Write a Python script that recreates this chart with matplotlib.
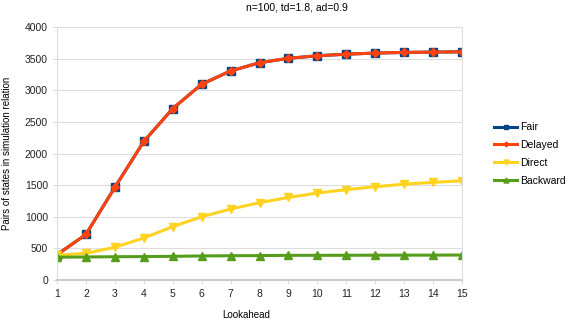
import matplotlib
matplotlib.use("Agg")
import matplotlib.pyplot as plt

lookahead = list(range(1, 16))
fair = [400, 720, 1465, 2190, 2710, 3095, 3305, 3435, 3505, 3545, 3570, 3588, 3598, 3603, 3608]
delayed = [400, 720, 1465, 2190, 2710, 3095, 3305, 3435, 3505, 3545, 3570, 3588, 3598, 3603, 3608]
direct = [390, 422, 517, 664, 843, 1000, 1122, 1222, 1305, 1375, 1428, 1475, 1515, 1543, 1568]
backward = [360, 364, 368, 370, 374, 380, 384, 386, 390, 390, 391, 392, 393, 393, 395]

plt.rcParams["font.family"] = ["Liberation Sans", "DejaVu Sans"]

fig = plt.figure(figsize=(5.68, 3.2), dpi=100)
ax = fig.add_axes([57 / 568, 40 / 320, 405 / 568, 253 / 320])

ax.plot(lookahead, fair, color="#004586", lw=2.2, marker="s", ms=6, label="Fair")
ax.plot(lookahead, delayed, color="#ff420e", lw=2.2, marker="D", ms=4, label="Delayed")
ax.plot(lookahead, direct, color="#ffd320", lw=2.2, marker="v", ms=6, label="Direct")
ax.plot(lookahead, backward, color="#579d1c", lw=2.2, marker="^", ms=6, label="Backward")

ax.set_xlim(1, 15)
ax.set_ylim(0, 4000)
ax.set_xticks(lookahead)
ax.set_yticks(range(0, 4001, 500))
ax.grid(axis="y", color="#dddddd", lw=0.8)
ax.set_axisbelow(True)
for s in ax.spines.values():
    s.set_color("#dddddd")
    s.set_linewidth(0.8)
ax.spines["bottom"].set_color("#cccccc")
ax.spines["bottom"].set_linewidth(1.5)
ax.tick_params(colors="#dddddd", labelcolor="#222222", labelsize=7.5, length=3, width=0.8)

fig.text(297 / 568, 1 - 7 / 320, "n=100, td=1.8, ad=0.9", ha="center", va="center", fontsize=7.5)
fig.text(246 / 568, 1 - 315 / 320, "Lookahead", ha="center", va="center", fontsize=7)
fig.text(7 / 568, 1 - 153 / 320, "Pairs of states in simulation relation", ha="center",
         va="center", rotation=90, fontsize=7)

leg = ax.legend(loc="upper left", bbox_to_anchor=(490 / 568, 1 - 118 / 320),
                bbox_transform=fig.transFigure, frameon=False, fontsize=7.5,
                handlelength=2.2, handletextpad=0.3, labelspacing=0.75, borderaxespad=0,
                markerscale=0.6)

fig.savefig("out.png", dpi=100)
